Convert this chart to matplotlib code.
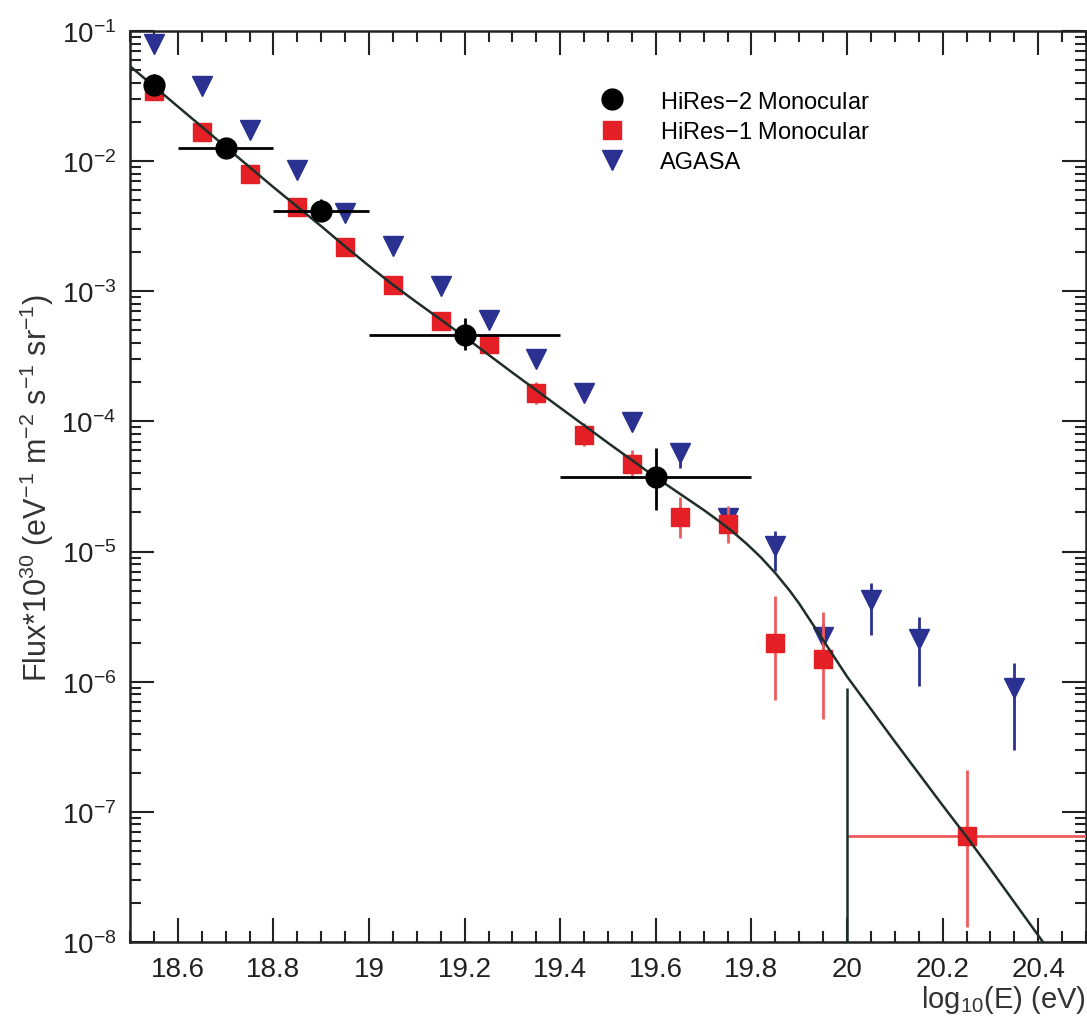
import numpy as np
import matplotlib
matplotlib.use("Agg")
import matplotlib.pyplot as plt
from matplotlib.ticker import MultipleLocator, LogLocator, NullFormatter

plt.rcParams["font.family"] = ["Liberation Sans", "DejaVu Sans"]
plt.rcParams["mathtext.default"] = "regular"

# === HiRes-2 Monocular (black circles) ===
hr2_x = [18.55, 18.70, 18.90, 19.20, 19.60]
hr2_y = [3.85e-2, 1.27e-2, 4.17e-3, 4.58e-4, 3.73e-5]
hr2_ylo = [3.3e-2, 1.27e-2, 3.45e-3, 3.55e-4, 2.09e-5]
hr2_yhi = [4.7e-2, 1.27e-2, 5.1e-3, 6.2e-4, 6.2e-5]
hr2_xerr = [0.0, 0.10, 0.10, 0.20, 0.20]
hr2_lim_x = 20.0
hr2_lim_top = 9.0e-7

# === HiRes-1 Monocular (red squares) ===
hr1_x = [18.55, 18.65, 18.75, 18.85, 18.95, 19.05, 19.15, 19.25, 19.35,
         19.45, 19.55, 19.65, 19.75, 19.85, 19.95, 20.25]
hr1_y = [3.47e-2, 1.68e-2, 7.9e-3, 4.46e-3, 2.17e-3, 1.11e-3, 5.86e-4,
         3.91e-4, 1.65e-4, 7.85e-5, 4.7e-5, 1.84e-5, 1.63e-5, 2.0e-6,
         1.5e-6, 6.5e-8]
hr1_ylo = [3.47e-2, 1.68e-2, 7.9e-3, 4.46e-3, 2.17e-3, 1.11e-3, 5.86e-4,
           3.91e-4, 1.35e-4, 6.45e-5, 3.67e-5, 1.27e-5, 1.17e-5, 7.2e-7,
           5.2e-7, 1.3e-8]
hr1_yhi = [3.47e-2, 1.68e-2, 7.9e-3, 4.46e-3, 2.17e-3, 1.11e-3, 5.86e-4,
           3.91e-4, 2.0e-4, 9.7e-5, 6.0e-5, 2.63e-5, 2.24e-5, 4.57e-6,
           3.45e-6, 2.09e-7]
hr1_xerr = [0.0] * 15 + [0.25]

# === AGASA (blue triangles) ===
ag_x = [18.55, 18.65, 18.75, 18.85, 18.95, 19.05, 19.15, 19.25, 19.35,
        19.45, 19.55, 19.65, 19.75, 19.85, 19.95, 20.05, 20.15, 20.35]
ag_y = [7.9e-2, 3.8e-2, 1.74e-2, 8.5e-3, 4.0e-3, 2.24e-3, 1.09e-3, 5.98e-4,
        3.02e-4, 1.65e-4, 9.86e-5, 5.7e-5, 1.82e-5, 1.1e-5, 2.2e-6,
        4.27e-6, 2.14e-6, 9.0e-7]
ag_ylo = [7.9e-2, 3.8e-2, 1.74e-2, 8.5e-3, 4.0e-3, 2.24e-3, 1.09e-3, 5.98e-4,
          3.02e-4, 1.65e-4, 9.86e-5, 4.4e-5, 1.6e-5, 7.1e-6, 1.7e-6,
          2.29e-6, 9.3e-7, 3.0e-7]
ag_yhi = [7.9e-2, 3.8e-2, 1.74e-2, 8.5e-3, 4.0e-3, 2.24e-3, 1.09e-3, 5.98e-4,
          3.02e-4, 1.65e-4, 9.86e-5, 6.6e-5, 2.1e-5, 1.45e-5, 2.8e-6,
          5.75e-6, 3.16e-6, 1.4e-6]

# === Fit curve (nodes) ===
fit_x = [18.50, 18.60, 18.70, 18.80, 18.90, 18.95, 19.00, 19.05, 19.10,
         19.20, 19.30, 19.40, 19.50, 19.60, 19.65, 19.70, 19.73, 19.76,
         19.79, 19.82, 19.85, 19.88, 19.90, 19.95, 20.00, 20.10, 20.20,
         20.25, 20.30, 20.41, 20.46]
fit_logy = [-1.27, -1.58, -1.89, -2.20, -2.50, -2.655, -2.805, -2.95, -3.085,
            -3.35, -3.625, -3.895, -4.165, -4.43, -4.555, -4.68, -4.76,
            -4.845, -4.94, -5.045, -5.165, -5.30, -5.40, -5.68, -5.96, -6.46,
            -6.95, -7.19, -7.44, -8.00, -8.26]

RED = "#e41f26"
RED_BAR = "#ef5a5a"
BLUE = "#2b3190"
BLACK = "#000000"
LINE = "#1f2e28"

fig = plt.figure(figsize=(10.87, 10.20), dpi=100)
ax = fig.add_axes([130 / 1087, 77 / 1020, 956 / 1087, 911 / 1020])
ax.set_yscale("log")

def asym(y, lo, hi):
    y = np.array(y)
    return [y - np.array(lo), np.array(hi) - y]

# AGASA
ag = ax.errorbar(ag_x, ag_y, yerr=asym(ag_y, ag_ylo, ag_yhi), fmt="v", ms=14,
                 color=BLUE, ecolor=BLUE, elinewidth=2, capsize=0, zorder=2)
# HiRes-1
h1 = ax.errorbar(hr1_x, hr1_y, yerr=asym(hr1_y, hr1_ylo, hr1_yhi),
                 xerr=hr1_xerr, fmt="s", ms=13, color=RED, ecolor=RED_BAR,
                 elinewidth=2, capsize=0, zorder=3)
# HiRes-2
h2 = ax.errorbar(hr2_x, hr2_y, yerr=asym(hr2_y, hr2_ylo, hr2_yhi),
                 xerr=hr2_xerr, fmt="o", ms=15, color=BLACK, ecolor=BLACK,
                 elinewidth=2, capsize=0, zorder=5)
ax.vlines(hr2_lim_x, 1e-8, hr2_lim_top, color=LINE, lw=1.8, zorder=4)

# fit curve
ax.plot(fit_x, 10 ** np.array(fit_logy), color=LINE, lw=1.8, zorder=4)

ax.set_xlim(18.5, 20.5)
ax.set_ylim(1e-8, 1e-1)

ax.xaxis.set_minor_locator(MultipleLocator(0.05))
ax.set_xticks([18.6, 18.8, 19.0, 19.2, 19.4, 19.6, 19.8, 20.0, 20.2, 20.4])
ax.set_xticklabels(["18.6", "18.8", "19", "19.2", "19.4", "19.6", "19.8",
                    "20", "20.2", "20.4"])
ax.yaxis.set_major_locator(LogLocator(base=10, numticks=20))
ax.yaxis.set_minor_locator(LogLocator(base=10, subs=np.arange(2, 10), numticks=20))
ax.yaxis.set_minor_formatter(NullFormatter())

ax.tick_params(which="both", direction="in", top=True, right=True,
               labelsize=20, width=1.5, colors="#222222")
ax.tick_params(which="major", length=17, pad=10)
ax.tick_params(which="minor", length=8)
for s in ax.spines.values():
    s.set_linewidth(1.8)
    s.set_color("#222222")

ax.set_ylabel("Flux*10$^{30}$ (eV$^{-1}$ m$^{-2}$ s$^{-1}$ sr$^{-1}$)",
              fontsize=22, color="#333333", labelpad=4)
ax.set_xlabel("log$_{10}$(E) (eV)", fontsize=21, color="#333333",
              loc="right", labelpad=1)

ax.legend([h2[0], h1[0], ag[0]],
          ["HiRes$-$2 Monocular", "HiRes$-$1 Monocular", "AGASA"],
          loc="upper left", bbox_to_anchor=(0.47, 0.945), frameon=False,
          fontsize=17, handletextpad=1.0, labelspacing=0.35, borderaxespad=0)

fig.savefig("out.png", dpi=100)
